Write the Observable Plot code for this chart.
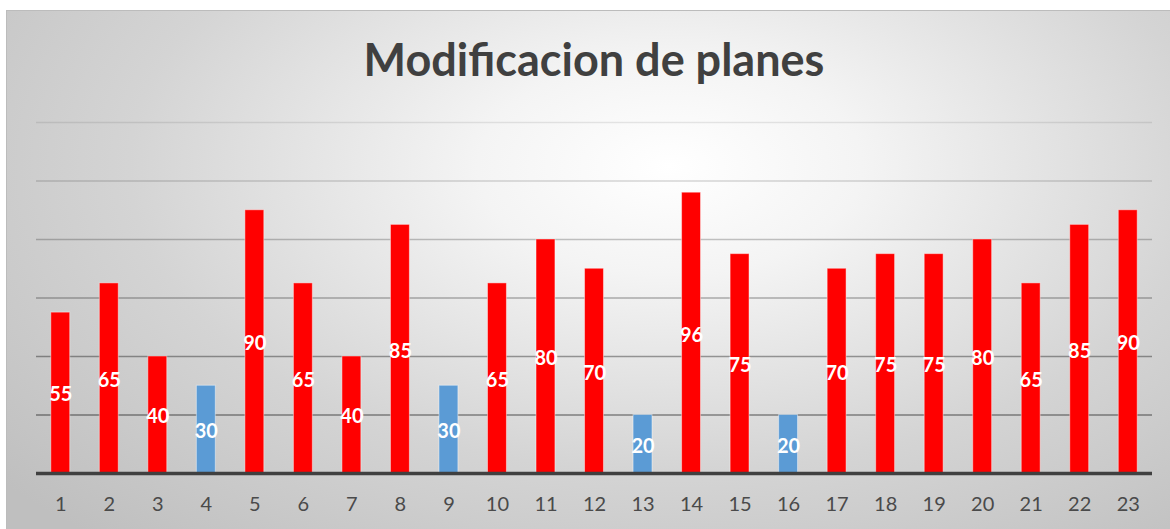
<!DOCTYPE html>
<html>
<head>
<meta charset="utf-8">
<script src="https://cdn.jsdelivr.net/npm/d3@7"></script>
<script src="https://cdn.jsdelivr.net/npm/@observablehq/plot@0.6"></script>
<style>
  html, body { margin: 0; padding: 0; background: #ffffff; }
  #frame {
    position: absolute; left: 6px; top: 10px; width: 1164px; height: 519px;
    box-sizing: border-box; border-top: 1px solid #bcbcbc; border-left: 1px solid #bcbcbc;
    background: radial-gradient(ellipse 75% 95% at 57% 30%, #ffffff 0%, #f4f4f4 22%, #d4d4d4 62%, #bfbfbf 100%);
  }
  #title {
    position: absolute; left: 0; top: 32px; width: 1188px; text-align: center;
    font-family: Lato, "Open Sans", sans-serif; font-weight: bold; font-size: 45px; color: #404040;
  }
  #chart { position: absolute; left: 0; top: 0; }
</style>
</head>
<body>
<div id="frame"></div>
<div id="title">Modificacion de planes</div>
<div id="chart"></div>
<script>
const categories = ["1","2","3","4","5","6","7","8","9","10","11","12","13","14","15","16","17","18","19","20","21","22","23"];
const values = [55,65,40,30,90,65,40,85,30,65,80,70,20,96,75,20,70,75,75,80,65,85,90];
const highlighted = ["4","9","13","16"];
const gridValues = [20,40,60,80,100,120];

const data = categories.map((c, i) => ({cat: c, value: values[i], blue: highlighted.includes(c)}));

const plot = Plot.plot({
  width: 1170,
  height: 529,
  marginLeft: 36,
  marginRight: 18,
  marginTop: 122,
  marginBottom: 56,
  style: {background: "transparent", fontFamily: "Lato, 'Open Sans', sans-serif"},
  x: {domain: categories, paddingInner: 0.61, paddingOuter: 0.305, round: false, label: null},
  y: {domain: [0, 120], axis: null},
  marks: [
    Plot.ruleY(gridValues, {stroke: "#000", strokeOpacity: d => 0.5 - d * 0.0034, strokeWidth: 1.3}),
    Plot.barY(data, {x: "cat", y: "value", fill: d => d.blue ? "#5b9bd5" : "#ff0000", stroke: "#ffffff", strokeOpacity: 0.45, strokeWidth: 1}),
    Plot.ruleY([0], {stroke: "#404040", strokeWidth: 3.5}),
    Plot.text(data, {x: "cat", y: d => d.value / 2, text: d => String(d.value), fill: "#ffffff", fontWeight: "bold", fontSize: 20, dy: 2}),
    Plot.axisX({tickSize: 0, tickPadding: 23, fontSize: 20, color: "#4a4a4a", label: null})
  ]
});
document.getElementById("chart").appendChild(plot);
</script>
</body>
</html>
